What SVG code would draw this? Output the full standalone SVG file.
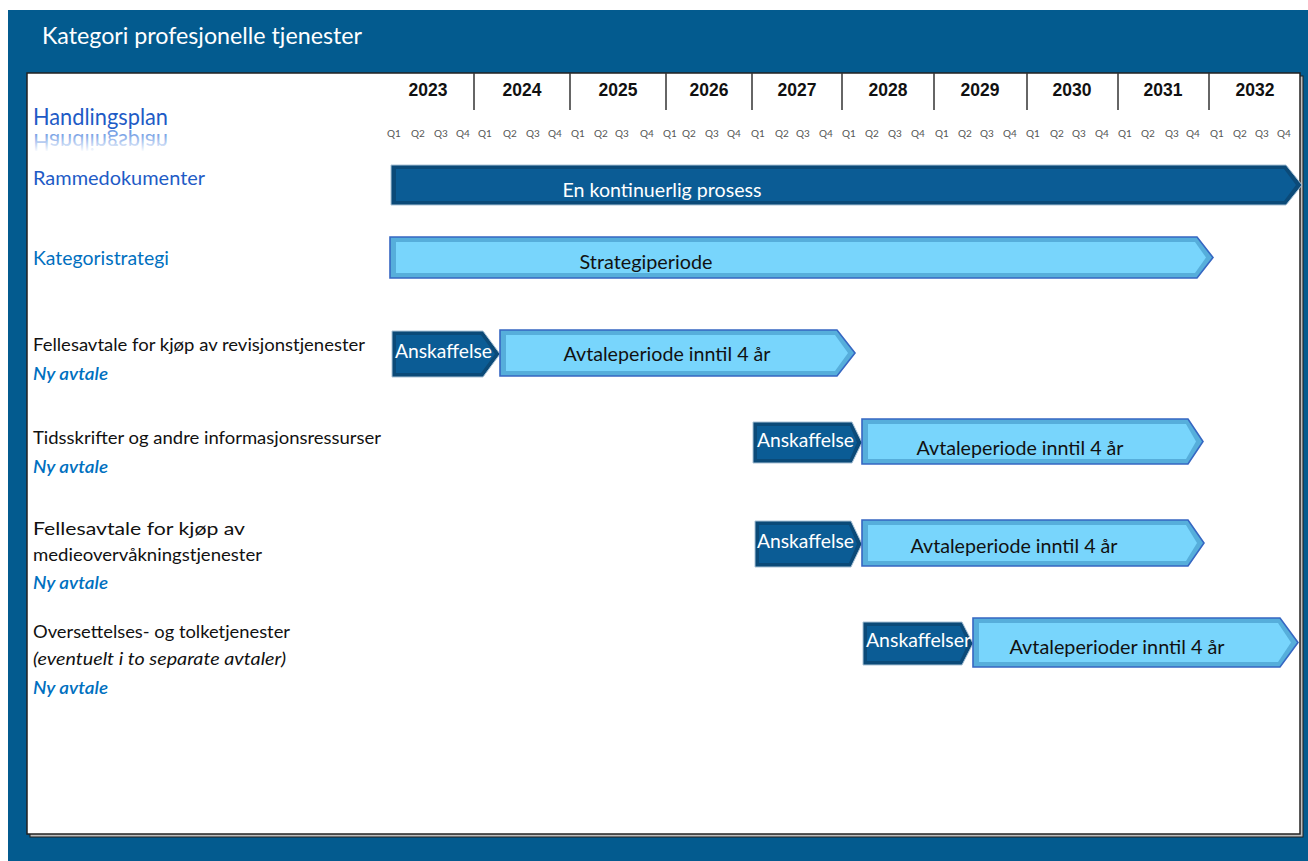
<svg xmlns="http://www.w3.org/2000/svg" width="1308" height="861" viewBox="0 0 1308 861">
  <style>
    .title { font-family: Lato, "Open Sans", sans-serif; font-size: 23px; fill: #ffffff; }
    .year { font-family: "Liberation Sans", Arial, sans-serif; font-size: 17.5px; font-weight: bold; fill: #111111; text-anchor: middle; }
    .q { font-family: Lato, "Open Sans", sans-serif; font-size: 10px; fill: #555555; text-anchor: middle; }
    .head { font-family: Lato, "Open Sans", sans-serif; font-size: 20px; fill: #1E5BC6; }
    .lbl { font-family: Lato, "Open Sans", sans-serif; font-size: 18px; fill: #111111; }
    .lbli { font-family: Lato, "Open Sans", sans-serif; font-size: 18px; font-style: italic; fill: #111111; }
    .ny { font-family: Lato, "Open Sans", sans-serif; font-size: 18px; font-style: italic; font-weight: 600; fill: #0070C0; }
    .bartxt-w { font-family: Lato, "Open Sans", sans-serif; font-size: 19px; fill: #ffffff; }
    .bartxt-b { font-family: Lato, "Open Sans", sans-serif; font-size: 19px; fill: #111111; }
    .dark-out { fill: #0B4A78; stroke: #A9C2D6; stroke-width: 1; }
    .dark-in { fill: #0B5C95; }
    .light-out { fill: #56AEDB; stroke: #3667C2; stroke-width: 1.6; }
    .light-in { fill: #78D5FC; }
    .yline { stroke: #333333; stroke-width: 1.5; }
  </style>
  <defs>
    <linearGradient id="reflect" gradientUnits="userSpaceOnUse" x1="0" y1="125" x2="0" y2="107">
      <stop offset="0" stop-color="#5E8FE0" stop-opacity="0.85"/>
      <stop offset="1" stop-color="#5E8FE0" stop-opacity="0"/>
    </linearGradient>
  </defs>

  <!-- background frame -->
  <rect x="0" y="0" width="1308" height="861" fill="#ffffff"/>
  <rect x="8" y="10" width="1300" height="851" fill="#035B8F"/>
  <text class="title" x="42" y="44" textLength="320" lengthAdjust="spacingAndGlyphs">Kategori profesjonelle tjenester</text>

  <!-- chart panel with shadow -->
  <rect x="30" y="76" width="1273" height="761" fill="#bdbdbd" stroke="#222222" stroke-width="1"/>
  <rect x="27" y="73" width="1273" height="761" fill="#ffffff" stroke="#222222" stroke-width="1.5"/>

  <!-- timeline header -->
  <g id="timeline">
    <g class="years">
      <text class="year" x="428" y="96">2023</text>
      <text class="year" x="522" y="96">2024</text>
      <text class="year" x="618" y="96">2025</text>
      <text class="year" x="709" y="96">2026</text>
      <text class="year" x="797" y="96">2027</text>
      <text class="year" x="888" y="96">2028</text>
      <text class="year" x="980" y="96">2029</text>
      <text class="year" x="1072" y="96">2030</text>
      <text class="year" x="1163" y="96">2031</text>
      <text class="year" x="1255" y="96">2032</text>
    </g>
    <g class="ylines">
      <line class="yline" x1="474" y1="73" x2="474" y2="110"/>
      <line class="yline" x1="570" y1="73" x2="570" y2="110"/>
      <line class="yline" x1="666" y1="73" x2="666" y2="110"/>
      <line class="yline" x1="752" y1="73" x2="752" y2="110"/>
      <line class="yline" x1="842" y1="73" x2="842" y2="110"/>
      <line class="yline" x1="934" y1="73" x2="934" y2="110"/>
      <line class="yline" x1="1027" y1="73" x2="1027" y2="110"/>
      <line class="yline" x1="1118" y1="73" x2="1118" y2="110"/>
      <line class="yline" x1="1209" y1="73" x2="1209" y2="110"/>
    </g>
    <g class="quarters">
      <text class="q" x="394" y="137">Q1</text><text class="q" x="418" y="137">Q2</text><text class="q" x="441" y="137">Q3</text><text class="q" x="463" y="137">Q4</text>
      <text class="q" x="485" y="137">Q1</text><text class="q" x="510" y="137">Q2</text><text class="q" x="533" y="137">Q3</text><text class="q" x="555" y="137">Q4</text>
      <text class="q" x="578" y="137">Q1</text><text class="q" x="601" y="137">Q2</text><text class="q" x="622" y="137">Q3</text><text class="q" x="647" y="137">Q4</text>
      <text class="q" x="670" y="137">Q1</text><text class="q" x="689" y="137">Q2</text><text class="q" x="712" y="137">Q3</text><text class="q" x="734" y="137">Q4</text>
      <text class="q" x="758" y="137">Q1</text><text class="q" x="782" y="137">Q2</text><text class="q" x="803" y="137">Q3</text><text class="q" x="826" y="137">Q4</text>
      <text class="q" x="849" y="137">Q1</text><text class="q" x="872" y="137">Q2</text><text class="q" x="895" y="137">Q3</text><text class="q" x="918" y="137">Q4</text>
      <text class="q" x="942" y="137">Q1</text><text class="q" x="965" y="137">Q2</text><text class="q" x="987" y="137">Q3</text><text class="q" x="1010" y="137">Q4</text>
      <text class="q" x="1033" y="137">Q1</text><text class="q" x="1057" y="137">Q2</text><text class="q" x="1079" y="137">Q3</text><text class="q" x="1102" y="137">Q4</text>
      <text class="q" x="1125" y="137">Q1</text><text class="q" x="1148" y="137">Q2</text><text class="q" x="1172" y="137">Q3</text><text class="q" x="1193" y="137">Q4</text>
      <text class="q" x="1217" y="137">Q1</text><text class="q" x="1240" y="137">Q2</text><text class="q" x="1262" y="137">Q3</text><text class="q" x="1284" y="137">Q4</text>
    </g>
  </g>

  <!-- row labels -->
  <g id="labels">
    <text class="head" x="33" y="125" style="font-size:23px" textLength="135" lengthAdjust="spacingAndGlyphs">Handlingsplan</text>
    <!-- faded mirror image under the heading -->
    <text x="33" y="125" font-family="Lato, Open Sans, sans-serif" font-size="23" fill="url(#reflect)" textLength="135" lengthAdjust="spacingAndGlyphs" transform="translate(0,259) scale(1,-1)">Handlingsplan</text>
    <text class="head" x="33" y="185" textLength="172" lengthAdjust="spacingAndGlyphs">Rammedokumenter</text>
    <text class="head" x="33" y="265" style="fill:#0070C0;font-size:19px" textLength="136" lengthAdjust="spacingAndGlyphs">Kategoristrategi</text>

    <text class="lbl" x="33" y="351" textLength="332" lengthAdjust="spacingAndGlyphs">Fellesavtale for kjøp av revisjonstjenester</text>
    <text class="ny" x="33" y="380" textLength="75" lengthAdjust="spacingAndGlyphs">Ny avtale</text>

    <text class="lbl" x="33" y="444" textLength="348" lengthAdjust="spacingAndGlyphs">Tidsskrifter og andre informasjonsressurser</text>
    <text class="ny" x="33" y="473" textLength="75" lengthAdjust="spacingAndGlyphs">Ny avtale</text>

    <text class="lbl" x="33" y="535" textLength="212" lengthAdjust="spacingAndGlyphs">Fellesavtale for kjøp av</text>
    <text class="lbl" x="33" y="561" textLength="229" lengthAdjust="spacingAndGlyphs">medieovervåkningstjenester</text>
    <text class="ny" x="33" y="589" textLength="75" lengthAdjust="spacingAndGlyphs">Ny avtale</text>

    <text class="lbl" x="33" y="638" textLength="257" lengthAdjust="spacingAndGlyphs">Oversettelses- og tolketjenester</text>
    <text class="lbli" x="33" y="665" textLength="253" lengthAdjust="spacingAndGlyphs">(eventuelt i to separate avtaler)</text>
    <text class="ny" x="33" y="694" textLength="75" lengthAdjust="spacingAndGlyphs">Ny avtale</text>
  </g>

  <!-- process bars -->
  <g id="bar-rammedokumenter">
    <polygon class="dark-out" points="391,165 1286,165 1302,185 1286,205 391,205"/>
    <polygon class="dark-in" points="396,169 1284,169 1296,185 1284,201 396,201"/>
    <text class="bartxt-w" x="662" y="197" text-anchor="middle" textLength="199" lengthAdjust="spacingAndGlyphs">En kontinuerlig prosess</text>
  </g>

  <g id="bar-strategi">
    <polygon class="light-out" points="390,237 1197,237 1213,257.5 1197,278 390,278"/>
    <polygon class="light-in" points="396,242 1195,242 1206,257.5 1195,273 396,273"/>
    <text class="bartxt-b" x="646" y="269" text-anchor="middle" textLength="133" lengthAdjust="spacingAndGlyphs">Strategiperiode</text>
  </g>

  <g id="row1-anskaffelse">
    <polygon class="dark-out" points="392,331 483,331 500,354 483,377 392,377"/>
    <polygon class="dark-in" points="396,335 481,335 495,354 481,373 396,373"/>
    <text class="bartxt-w" x="395" y="358" textLength="97" lengthAdjust="spacingAndGlyphs">Anskaffelse</text>
  </g>
  <g id="row1-avtale">
    <polygon class="light-out" points="500,330 837,330 855,353 837,376 500,376"/>
    <polygon class="light-in" points="506,335 835,335 848,353 835,371 506,371"/>
    <text class="bartxt-b" x="667" y="361" text-anchor="middle" textLength="207" lengthAdjust="spacingAndGlyphs">Avtaleperiode inntil 4 år</text>
  </g>

  <g id="row2-anskaffelse">
    <polygon class="dark-out" points="753,422 852,422 862,442.5 852,463 753,463"/>
    <polygon class="dark-in" points="757,426 850,426 857,442.5 850,459 757,459"/>
    <text class="bartxt-w" x="757" y="447" textLength="97" lengthAdjust="spacingAndGlyphs">Anskaffelse</text>
  </g>
  <g id="row2-avtale">
    <polygon class="light-out" points="862,419 1188,419 1203,441.5 1188,464 862,464"/>
    <polygon class="light-in" points="868,424 1186,424 1196,441.5 1186,459 868,459"/>
    <text class="bartxt-b" x="1020" y="455" text-anchor="middle" textLength="207" lengthAdjust="spacingAndGlyphs">Avtaleperiode inntil 4 år</text>
  </g>

  <g id="row3-anskaffelse">
    <polygon class="dark-out" points="755,521 851,521 862,544 851,567 755,567"/>
    <polygon class="dark-in" points="759,525 849,525 857,544 849,563 759,563"/>
    <text class="bartxt-w" x="757" y="548" textLength="97" lengthAdjust="spacingAndGlyphs">Anskaffelse</text>
  </g>
  <g id="row3-avtale">
    <polygon class="light-out" points="862,520 1188,520 1204,543 1188,566 862,566"/>
    <polygon class="light-in" points="868,525 1186,525 1197,543 1186,561 868,561"/>
    <text class="bartxt-b" x="1014" y="553" text-anchor="middle" textLength="207" lengthAdjust="spacingAndGlyphs">Avtaleperiode inntil 4 år</text>
  </g>

  <g id="row4-anskaffelser">
    <polygon class="dark-out" points="863,622 962,622 973,643.5 962,665 863,665"/>
    <polygon class="dark-in" points="867,626 960,626 968,643.5 960,661 867,661"/>
    <text class="bartxt-w" x="866" y="647" textLength="105" lengthAdjust="spacingAndGlyphs">Anskaffelser</text>
  </g>
  <g id="row4-avtaler">
    <polygon class="light-out" points="973,618 1280,618 1298,642.5 1280,667 973,667"/>
    <polygon class="light-in" points="979,623 1278,623 1291,642.5 1278,662 979,662"/>
    <text class="bartxt-b" x="1117" y="654" text-anchor="middle" textLength="215" lengthAdjust="spacingAndGlyphs">Avtaleperioder inntil 4 år</text>
  </g>

  <!-- no connectors in this chart -->
  <g id="connectors"/>
</svg>
